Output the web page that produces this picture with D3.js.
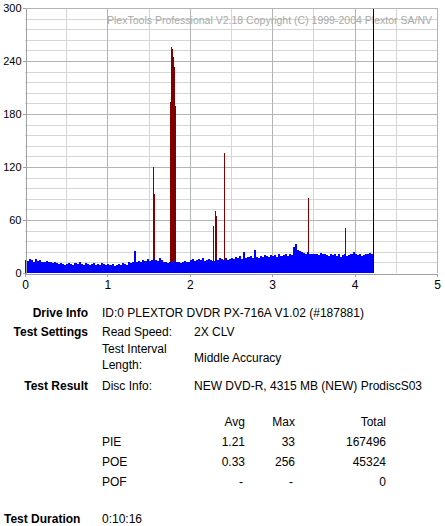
<!DOCTYPE html>
<html>
<head>
<meta charset="utf-8">
<script src="https://cdn.jsdelivr.net/npm/d3@7"></script>
<style>
  html, body { margin: 0; padding: 0; background: #ffffff; }
  svg { display: block; }
  text { font-family: "Liberation Sans", Arial, sans-serif; font-size: 12px; fill: #000; }
</style>
</head>
<body>
<svg id="chart" width="445" height="526"></svg>
<script>
// ---------- data ----------
const pieStep = 0.025; // GB per PIE sample
const pieValues = [
  15,14,16,15,13,16,14,15,13,12,14,12,13,11,12,11,10,11,10,9,
  10,11,10,9,11,10,12,10,9,11,10,9,10,11,9,10,9,11,10,9,
  10,9,10,8,9,10,9,11,10,9,12,11,13,25,12,14,13,15,14,16,
  14,15,16,15,14,17,15,13,12,11,13,12,14,12,13,11,12,14,13,12,
  15,16,14,15,16,15,17,14,15,16,15,14,16,15,17,16,15,17,15,16,
  17,16,18,17,19,16,24,17,18,19,17,26,18,17,19,18,20,19,18,20,
  19,20,18,21,19,20,22,19,21,20,30,33,26,25,24,23,22,24,21,22,
  21,22,20,23,21,22,20,19,21,20,22,19,21,18,20,22,19,20,21,24,
  21,20,22,19,20,21,22,23,22
];
const poePositions = [1.557, 1.566, 1.760, 1.772, 1.784, 1.796, 1.808, 1.820, 2.286, 2.310, 2.322, 2.419, 3.438, 3.888];
const poeValues    = [120,   89,    194,   256,   254,   245,   233,   189,   53,    70,    64,    136,   85,    51];
const poeWidth = 0.012;
const endPosition = 4.223;
const xTicks = [0, 1, 2, 3, 4, 5];
const yTicks = [0, 60, 120, 180, 240, 300];
const xGrid = [0.5, 1, 1.5, 2, 2.5, 3, 3.5, 4, 4.5];
const yGrid = [12,24,36,48,60,72,84,96,108,120,132,144,156,168,180,192,204,216,228,240,252,264,276,288];

const watermark = "PlexTools Professional V2.18 Copyright (C) 1999-2004 Plextor SA/NV";

const infoRows = [
  { label: "Drive Info",    y: 313, cols: [["ID:0 PLEXTOR DVDR PX-716A V1.02 (#187881)", 102]] },
  { label: "Test Settings", y: 332, cols: [["Read Speed:", 102], ["2X CLV", 194]] },
  { label: "",              y: 349, cols: [["Test Interval", 102]] },
  { label: "",              y: 358, cols: [["Middle Accuracy", 194]] },
  { label: "",              y: 365, cols: [["Length:", 102]] },
  { label: "Test Result",   y: 386, cols: [["Disc Info:", 102], ["NEW DVD-R, 4315 MB (NEW) ProdiscS03", 194]] }
];
const tableHeader = ["", "Avg", "Max", "Total"];
const tableRows = [
  ["PIE", "1.21", "33", "167496"],
  ["POE", "0.33", "256", "45324"],
  ["POF", "-", "-", "0"]
];
const durationLabel = "Test Duration";
const durationValue = "0:10:16";

// ---------- drawing ----------
const svg = d3.select("#chart");
const x = d3.scaleLinear().domain([0, 5]).range([25, 437]);
const y = d3.scaleLinear().domain([0, 300]).range([273, 8]);

const grid = svg.append("g").attr("shape-rendering", "crispEdges");
// minor grid
grid.selectAll("line.vmin").data(xGrid.filter(v => v % 1 !== 0)).join("line")
  .attr("x1", d => Math.round(x(d)) + 0.5).attr("x2", d => Math.round(x(d)) + 0.5)
  .attr("y1", y(300)).attr("y2", y(0)).attr("stroke", "#d6d6d6");
grid.selectAll("line.hmin").data(yGrid.filter(v => v % 60 !== 0)).join("line")
  .attr("y1", d => Math.round(y(d)) + 0.5).attr("y2", d => Math.round(y(d)) + 0.5)
  .attr("x1", x(0)).attr("x2", x(5)).attr("stroke", "#d6d6d6");
// major grid
grid.selectAll("line.vmaj").data(xGrid.filter(v => v % 1 === 0)).join("line")
  .attr("x1", d => Math.round(x(d)) + 0.5).attr("x2", d => Math.round(x(d)) + 0.5)
  .attr("y1", y(300)).attr("y2", y(0)).attr("stroke", "#b4b4b4");
grid.selectAll("line.hmaj").data(yGrid.filter(v => v % 60 === 0)).join("line")
  .attr("y1", d => Math.round(y(d)) + 0.5).attr("y2", d => Math.round(y(d)) + 0.5)
  .attr("x1", x(0)).attr("x2", x(5)).attr("stroke", "#b4b4b4");

// watermark
svg.append("text").attr("x", 432).attr("y", 20).attr("text-anchor", "end")
  .attr("dominant-baseline", "central").style("fill", "#a8a8a8").style("font-size", "11.5px")
  .attr("textLength", 325).attr("lengthAdjust", "spacingAndGlyphs").text(watermark);

// POE bars (behind)
const bars = svg.append("g").attr("shape-rendering", "crispEdges");
bars.selectAll("rect.poe").data(poePositions).join("rect")
  .attr("x", d => Math.round(x(d)))
  .attr("width", d => Math.max(1, Math.round(x(d + poeWidth)) - Math.round(x(d))))
  .attr("y", (d, i) => y(poeValues[i]))
  .attr("height", (d, i) => y(0) - y(poeValues[i]))
  .attr("fill", "#800000");

// PIE bars
bars.selectAll("rect.pie").data(pieValues).join("rect")
  .attr("x", (d, i) => Math.round(x(i * pieStep)))
  .attr("width", (d, i) => Math.round(x((i + 1) * pieStep)) - Math.round(x(i * pieStep)))
  .attr("y", d => y(d))
  .attr("height", d => y(0) - y(d))
  .attr("fill", "#0000ff");

// end-of-disc line
svg.append("line").attr("shape-rendering", "crispEdges")
  .attr("x1", Math.round(x(endPosition)) + 0.5).attr("x2", Math.round(x(endPosition)) + 0.5)
  .attr("y1", y(300)).attr("y2", y(0)).attr("stroke", "#000");

// axes
const yAxis = svg.append("g").attr("transform", `translate(${x(0) + 0.5},0)`)
  .call(d3.axisLeft(y).tickValues(yTicks).tickSize(3).tickPadding(1).tickFormat(d3.format("d")));
const xAxis = svg.append("g").attr("transform", `translate(0,${y(0) + 0.5})`)
  .call(d3.axisBottom(x).tickValues(xTicks).tickSize(3).tickPadding(4).tickFormat(d3.format("d")));
[yAxis, xAxis].forEach(a => {
  a.attr("shape-rendering", "crispEdges");
  a.selectAll("text").style("font-family", '"Liberation Sans", Arial, sans-serif').attr("fill", "#000");
  a.selectAll("line").attr("stroke", "#a0a0a0");
  a.select(".domain").attr("stroke", "#a0a0a0");
});
yAxis.selectAll("text").style("font-size", "11px").attr("dy", "0.35em");
xAxis.selectAll("text").style("font-size", "12px");
// top and right frame
svg.append("line").attr("shape-rendering", "crispEdges").attr("x1", x(0)).attr("x2", x(5) + 0.5)
  .attr("y1", y(300) + 0.5).attr("y2", y(300) + 0.5).attr("stroke", "#b4b4b4");
svg.append("line").attr("shape-rendering", "crispEdges").attr("x1", x(5) + 0.5).attr("x2", x(5) + 0.5)
  .attr("y1", y(300)).attr("y2", y(0)).attr("stroke", "#b4b4b4");

// info text
const info = svg.append("g");
infoRows.forEach(r => {
  if (r.label) info.append("text").attr("x", 88).attr("y", r.y).attr("text-anchor", "end")
    .attr("dominant-baseline", "central").style("font-weight", "bold").text(r.label);
  r.cols.forEach(c => info.append("text").attr("x", c[1]).attr("y", r.y)
    .attr("dominant-baseline", "central").text(c[0]));
});
const colX = [102, 245, 295, 386];
const rowsAll = [tableHeader].concat(tableRows);
rowsAll.forEach((row, ri) => {
  row.forEach((cell, ci) => {
    if (!cell) return;
    info.append("text").attr("x", ci === 0 ? colX[0] : colX[ci] - ((cell === "-") ? 2 : 0))
      .attr("y", 422 + ri * 20).attr("text-anchor", ci === 0 ? "start" : "end")
      .attr("dominant-baseline", "central").text(cell);
  });
});
info.append("text").attr("x", 4).attr("y", 519).attr("dominant-baseline", "central")
  .style("font-weight", "bold").text(durationLabel);
info.append("text").attr("x", 102).attr("y", 519).attr("dominant-baseline", "central").text(durationValue);
</script>
</body>
</html>
